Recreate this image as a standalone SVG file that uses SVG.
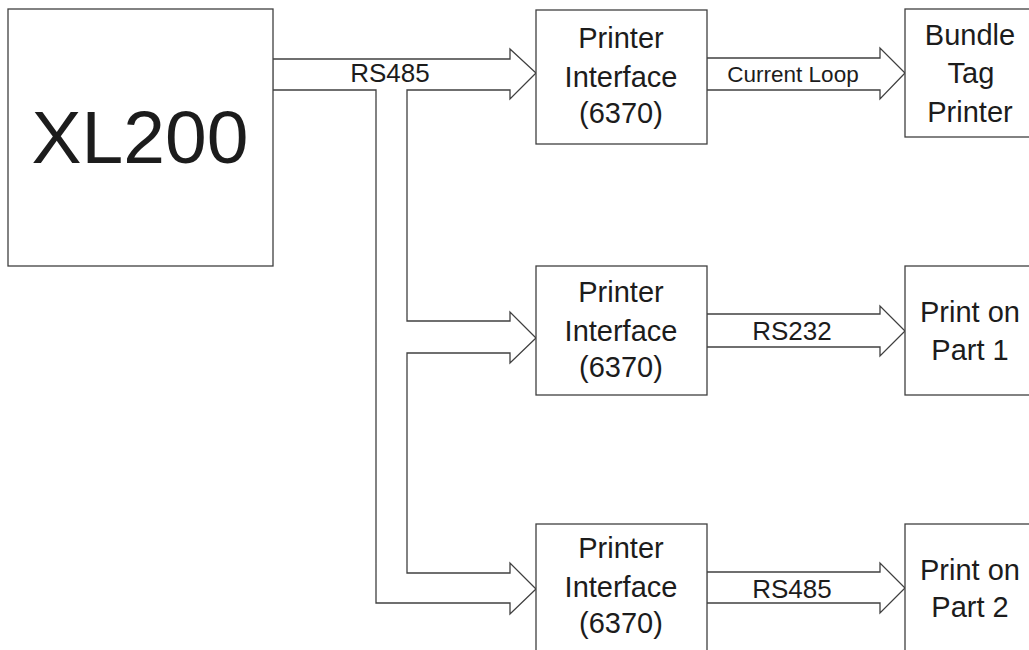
<svg xmlns="http://www.w3.org/2000/svg" width="1029" height="650" viewBox="0 0 1029 650">
<style>
.box{fill:#fff;stroke:#404040;stroke-width:1.3}
.conn{fill:#fff;stroke:#404040;stroke-width:1.3;stroke-linejoin:miter}
.seam{stroke:#c8c8c8;stroke-width:1.3}
text{font-family:"Liberation Sans",Arial,sans-serif;fill:#1c1c1c;text-anchor:middle}
.t{font-size:29px}
.l{font-size:26px}
</style>
<rect width="1029" height="650" fill="#fff"/>
<g id="connectors">
<polyline class="conn" points="273,59 510,59 510,49 536,73 510,99 510,90 407,90 407,321 510,321 510,312 536,338 510,363 510,353 407,353 407,573 510,573 510,563 536,589 510,614 510,603 376,603 376,90 273,90"/>
<line class="seam" x1="273" y1="60" x2="273" y2="89"/>
<text class="l" x="390" y="82">RS485</text>
<polyline class="conn" points="707,58 880,58 880,48 905,73 880,99 880,90 707,90"/>
<line class="seam" x1="707" y1="59" x2="707" y2="89"/>
<text x="793" y="82" style="font-size:22.5px">Current Loop</text>
<polyline class="conn" points="707,314 880,314 880,306 905,331 880,356 880,347 707,347"/>
<line class="seam" x1="707" y1="315" x2="707" y2="346"/>
<text class="l" x="792" y="340">RS232</text>
<polyline class="conn" points="707,572 880,572 880,563 905,588 880,613 880,603 707,603"/>
<line class="seam" x1="707" y1="573" x2="707" y2="602"/>
<text class="l" x="792" y="598">RS485</text>
</g>
<g id="xl200">
<rect class="box" x="8" y="9" width="265" height="257"/>
<text x="140" y="163" style="font-size:75px">XL200</text>
</g>
<g id="pi1">
<rect class="box" x="536" y="10" width="171" height="134"/>
<text class="t" x="621" y="48">Printer</text>
<text class="t" x="621" y="87">Interface</text>
<text class="t" x="621" y="123">(6370)</text>
</g>
<g id="pi2">
<rect class="box" x="536" y="266" width="171" height="129"/>
<text class="t" x="621" y="302">Printer</text>
<text class="t" x="621" y="341">Interface</text>
<text class="t" x="621" y="377">(6370)</text>
</g>
<g id="pi3">
<rect class="box" x="536" y="524" width="171" height="132"/>
<text class="t" x="621" y="558">Printer</text>
<text class="t" x="621" y="597">Interface</text>
<text class="t" x="621" y="633">(6370)</text>
</g>
<g id="bundle">
<rect class="box" x="905" y="9" width="130" height="128"/>
<text class="t" x="970" y="45">Bundle</text>
<text class="t" x="971" y="83">Tag</text>
<text class="t" x="970" y="122">Printer</text>
</g>
<g id="part1">
<rect class="box" x="905" y="266" width="130" height="129"/>
<text class="t" x="970" y="322">Print on</text>
<text class="t" x="970" y="360">Part 1</text>
</g>
<g id="part2">
<rect class="box" x="905" y="524" width="130" height="132"/>
<text class="t" x="970" y="580">Print on</text>
<text class="t" x="970" y="617">Part 2</text>
</g>
</svg>
